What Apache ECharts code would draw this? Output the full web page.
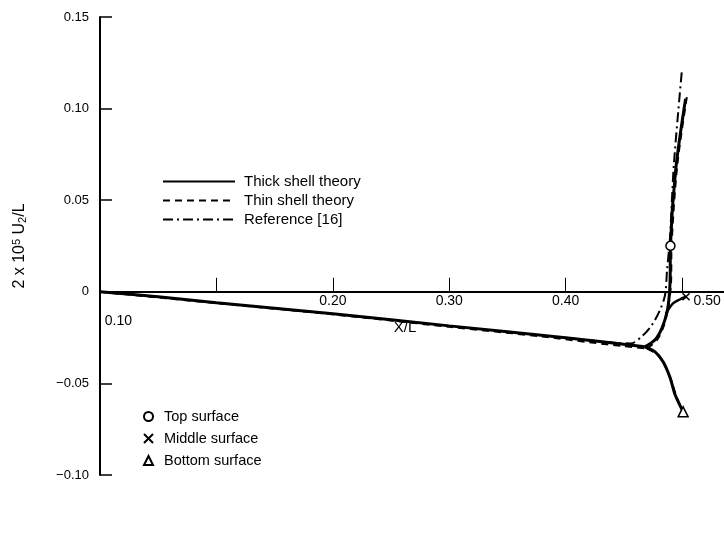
<!DOCTYPE html>
<html><head><meta charset="utf-8">
<script src="https://cdn.jsdelivr.net/npm/echarts@6/dist/echarts.min.js"></script>
<style>html,body{margin:0;padding:0;background:#fff}#c{width:724px;height:536px}</style>
</head><body><div id="c"></div>
<script>
// ---- data (x = X/L, y = 2x10^5 U2/L) ----
const xTickValues = [0.1, 0.2, 0.3, 0.4, 0.5];
const xTickLabels = ['0.10', '0.20', '0.30', '0.40', '0.50'];
const yTickValues = [-0.10, -0.05, 0, 0.05, 0.10, 0.15];
const yTickLabels = ['\u22120.10', '\u22120.05', '0', '0.05', '0.10', '0.15'];

const thickMain = [[0,0],[0.05,-0.0027],[0.10,-0.0060],[0.20,-0.0120],[0.30,-0.0186],[0.40,-0.0251],[0.468,-0.0300]];
const thickTop = [[0.468,-0.0300],[0.4768,-0.0262],[0.4828,-0.0197],[0.4871,-0.0109],[0.4888,-0.0033],[0.4897,0.0060],[0.4900,0.0251],[0.4945,0.0666],[0.5030,0.1054]];
const thickMiddle = [[0.4860,-0.0120],[0.4920,-0.0065],[0.4980,-0.0042],[0.5034,-0.0027]];
const thickBottom = [[0.468,-0.0300],[0.4768,-0.0328],[0.4837,-0.0382],[0.4897,-0.0469],[0.4940,-0.0562],[0.5009,-0.0655]];

const thinMain = [[0,0],[0.10,-0.0062],[0.20,-0.0123],[0.30,-0.0191],[0.38,-0.0244],[0.42,-0.0275],[0.45,-0.0297],[0.470,-0.0310]];
const thinTop = [[0.470,-0.0310],[0.4785,-0.0262],[0.4840,-0.0190],[0.4880,-0.0090],[0.4905,0.0050],[0.4910,0.0260],[0.4960,0.0700],[0.5045,0.1080]];
const thinBottom = [[0.470,-0.0310],[0.4790,-0.0345],[0.4850,-0.0400],[0.4905,-0.0480],[0.4950,-0.0570],[0.5009,-0.0655]];

const refTop = [[0.40,-0.0251],[0.44,-0.0277],[0.456,-0.0282],[0.466,-0.0240],[0.4742,-0.0180],[0.4811,-0.0098],[0.4854,-0.0016],[0.4871,0.0120],[0.4895,0.0284],[0.4930,0.0700],[0.5000,0.1220]];

const topPoint = [[0.4900,0.0251]];
const middlePoint = [[0.5034,-0.0027]];
const bottomPoint = [[0.5009,-0.0655]];

const lineNames = ['Thick shell theory', 'Thin shell theory', 'Reference [16]'];
const markNames = ['Top surface', 'Middle surface', 'Bottom surface'];

// ---- chart ----
const FONT = 'Liberation Sans';
const chart = echarts.init(document.getElementById('c'), null, {renderer: 'canvas'});

function lineSeries(name, data, type, width) {
  return {
    name: name, type: 'line', data: data, symbol: 'none', smooth: 0.3,
    lineStyle: {color: '#000', width: width, type: type},
    itemStyle: {color: '#000'}, z: 3, animation: false
  };
}
const crossPath = 'path://M0,0L10,10M10,0L0,10';

const option = {
  backgroundColor: '#fff',
  animation: false,
  grid: {left: 100, right: 0, top: 17, bottom: 61, containLabel: false, outerBoundsMode: 'none'},
  xAxis: {
    type: 'value', min: 0, max: 0.536, interval: 0.1, position: 'bottom', offset: 0,
    name: 'X/L', nameLocation: 'middle', nameGap: 29,
    nameTextStyle: {color: '#000', fontSize: 15, fontFamily: FONT, padding: [0, 14, 0, 0]},
    axisLine: {onZero: false, lineStyle: {color: '#000', width: 2}},
    axisTick: {inside: true, length: 14, lineStyle: {color: '#000', width: 1}},
    axisLabel: {
      margin: 2, color: '#000', fontSize: 14, fontFamily: FONT,
      formatter: function (v) {
        const i = xTickValues.findIndex(t => Math.abs(t - v) < 1e-6);
        if (i <= 0 || i === xTickValues.length - 1) return '';
        return xTickLabels[i];
      }
    },
    splitLine: {show: false}
  },
  yAxis: {
    type: 'value', min: -0.10, max: 0.15, interval: 0.05,
    name: '2 x 10{sup|5} U{sub|2}/L', nameLocation: 'middle', nameGap: 72, nameRotate: 90,
    nameTextStyle: {color: '#000', fontSize: 16, fontFamily: FONT,
      rich: {
        sup: {fontSize: 11, verticalAlign: 'top', fontFamily: FONT, color: '#000', padding: [0, 0, 6, 0]},
        sub: {fontSize: 11, verticalAlign: 'bottom', fontFamily: FONT, color: '#000', padding: [6, 0, 0, 0]}
      }},
    axisLine: {onZero: false, lineStyle: {color: '#000', width: 2}},
    axisTick: {inside: true, length: 12, lineStyle: {color: '#000', width: 1.5}},
    axisLabel: {
      margin: 11, color: '#000', fontSize: 13, fontFamily: FONT,
      formatter: function (v) {
        const i = yTickValues.findIndex(t => Math.abs(t - v) < 1e-6);
        return i < 0 ? '' : yTickLabels[i];
      }
    },
    splitLine: {show: false}
  },
  legend: [
    {
      data: lineNames, orient: 'vertical', left: 157, top: 169,
      itemWidth: 72, itemHeight: 12, itemGap: 4, selectedMode: false,
      itemStyle: {color: 'rgba(0,0,0,0)', borderColor: 'rgba(0,0,0,0)', borderWidth: 0},
      textStyle: {color: '#000', fontSize: 15, fontFamily: FONT, padding: [0, 0, 0, 4]}
    },
    {
      data: markNames, orient: 'vertical', left: 138, top: 404,
      itemWidth: 9, itemHeight: 9, itemGap: 7, selectedMode: false,
      textStyle: {color: '#000', fontSize: 14.5, fontFamily: FONT, padding: [0, 0, 0, 6]}
    }
  ],
  series: [
    lineSeries('Thick shell theory', thickMain, 'solid', 3),
    lineSeries('Thick shell theory', thickTop, 'solid', 3),
    lineSeries('Thick shell theory', thickMiddle, 'solid', 2.5),
    lineSeries('Thick shell theory', thickBottom, 'solid', 3),
    lineSeries('Thin shell theory', thinMain, [7, 5], 2),
    lineSeries('Thin shell theory', thinTop, [7, 5], 2),
    lineSeries('Thin shell theory', thinBottom, [7, 5], 2),
    lineSeries('Reference [16]', refTop, [10, 4, 2, 4], 2),
    {name: 'Top surface', type: 'scatter', data: topPoint, symbol: 'circle', symbolSize: 9, z: 6,
      itemStyle: {color: '#fff', opacity: 1, borderColor: '#000', borderWidth: 1.5}},
    {name: 'Middle surface', type: 'scatter', data: middlePoint, symbol: crossPath, symbolSize: 7, z: 6,
      itemStyle: {color: '#fff', opacity: 1, borderColor: '#000', borderWidth: 1.5}},
    {name: 'Bottom surface', type: 'scatter', data: bottomPoint, symbol: 'triangle', symbolSize: 10, z: 6,
      itemStyle: {color: '#fff', opacity: 1, borderColor: '#000', borderWidth: 1.5}}
  ]
};
chart.setOption(option);

// move the x axis (line, ticks, labels, name) up onto y = 0
const pZero = chart.convertToPixel({xAxisIndex: 0, yAxisIndex: 0}, [0, 0]);
const pMin = chart.convertToPixel({xAxisIndex: 0, yAxisIndex: 0}, [0, yTickValues[0]]);
const axisOffset = -(pMin[1] - pZero[1]);

// displaced tick labels 0.10 and 0.50 (as in the original figure)
const p10 = chart.convertToPixel({xAxisIndex: 0, yAxisIndex: 0}, [xTickValues[0], 0]);
const p50 = chart.convertToPixel({xAxisIndex: 0, yAxisIndex: 0}, [xTickValues[4], 0]);
chart.setOption({
  xAxis: {offset: axisOffset},
  graphic: [
    {type: 'text', x: p10[0] - 98, y: p10[1] + 22,
      style: {text: xTickLabels[0], fill: '#000', fontSize: 14, fontFamily: FONT, textAlign: 'center', textVerticalAlign: 'top'}},
    {type: 'text', x: p50[0] + 25, y: p50[1] + 2,
      style: {text: xTickLabels[4], fill: '#000', fontSize: 14, fontFamily: FONT, textAlign: 'center', textVerticalAlign: 'top'}}
  ]
});
</script>
</body></html>
